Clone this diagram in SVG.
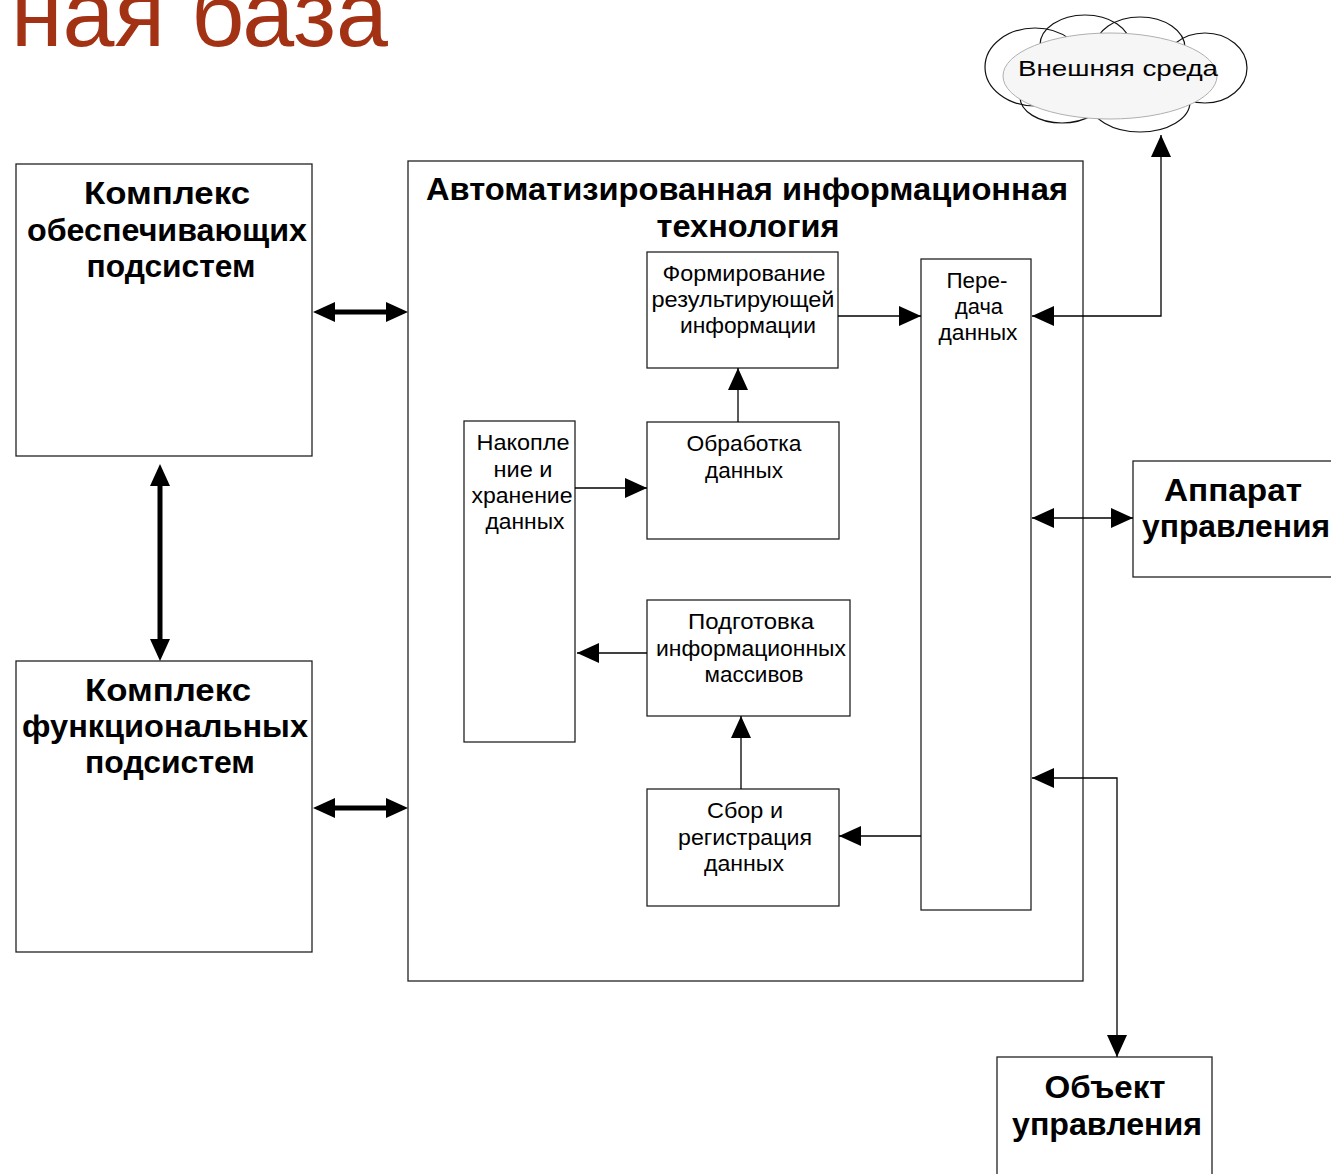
<svg xmlns="http://www.w3.org/2000/svg" width="1331" height="1174" viewBox="0 0 1331 1174">
<style>
  .box { fill: #ffffff; stroke: #222222; stroke-width: 1.3; }
  .thin { fill: none; stroke: #000000; stroke-width: 1.3; }
  .thick { fill: none; stroke: #000000; stroke-width: 5; }
  .lobe { fill: none; stroke: #111111; stroke-width: 1.2; }
  .b { font-family: "Liberation Sans", Arial, sans-serif; font-weight: bold; font-size: 31px; fill: #000; text-anchor: middle; }
  .r { font-family: "Liberation Sans", Arial, sans-serif; font-size: 22px; fill: #000; text-anchor: middle; }
  .title { font-family: "Liberation Sans", Arial, sans-serif; font-size: 94px; fill: #A33214; }
</style>
<defs>
  <marker id="ah" markerUnits="userSpaceOnUse" viewBox="0 0 22 20" markerWidth="22" markerHeight="20" refX="22" refY="10" orient="auto-start-reverse">
    <path d="M0,0 L22,10 L0,20 z" fill="#000"/>
  </marker>
  <marker id="ahT" markerUnits="userSpaceOnUse" viewBox="0 0 22 20" markerWidth="22" markerHeight="20" refX="12" refY="10" orient="auto-start-reverse">
    <path d="M0,0 L22,10 L0,20 z" fill="#000"/>
  </marker>
</defs>
<rect x="0" y="0" width="1331" height="1174" fill="#ffffff"/>

<text class="title" x="11" y="46" textLength="377" lengthAdjust="spacingAndGlyphs">ная база</text>

<g id="cloud">
  <ellipse class="lobe" cx="1035" cy="67" rx="50" ry="39"/>
  <ellipse class="lobe" cx="1085" cy="45" rx="45" ry="30"/>
  <ellipse class="lobe" cx="1140" cy="48" rx="45" ry="31"/>
  <ellipse class="lobe" cx="1205" cy="68" rx="42" ry="35"/>
  <ellipse class="lobe" cx="1140" cy="102" rx="50" ry="30"/>
  <ellipse class="lobe" cx="1062" cy="97" rx="42" ry="26"/>
  <ellipse cx="1110" cy="76" rx="107" ry="43" fill="#f6f6f6" stroke="#b0b0b0" stroke-width="1"/>
  <text class="r" x="1118" y="76" font-size="26" textLength="200" lengthAdjust="spacingAndGlyphs">Внешняя среда</text>
</g>

<g id="support">
  <rect class="box" x="16" y="164" width="296" height="292"/>
  <text class="b" x="167" y="204" textLength="166" lengthAdjust="spacingAndGlyphs">Комплекс</text>
  <text class="b" x="167" y="241" textLength="280" lengthAdjust="spacingAndGlyphs">обеспечивающих</text>
  <text class="b" x="171" y="277" textLength="169" lengthAdjust="spacingAndGlyphs">подсистем</text>
</g>

<g id="functional">
  <rect class="box" x="16" y="661" width="296" height="291"/>
  <text class="b" x="168" y="701" textLength="166" lengthAdjust="spacingAndGlyphs">Комплекс</text>
  <text class="b" x="165" y="737" textLength="286" lengthAdjust="spacingAndGlyphs">функциональных</text>
  <text class="b" x="170" y="773" textLength="170" lengthAdjust="spacingAndGlyphs">подсистем</text>
</g>

<g id="ait">
  <rect class="box" x="408" y="161" width="675" height="820"/>
  <text class="b" x="747" y="200" textLength="642" lengthAdjust="spacingAndGlyphs">Автоматизированная информационная</text>
  <text class="b" x="748" y="237" textLength="183" lengthAdjust="spacingAndGlyphs">технология</text>
</g>

<g id="forming">
  <rect class="box" x="647" y="252" width="191" height="116"/>
  <text class="r" x="744" y="281" textLength="163" lengthAdjust="spacingAndGlyphs">Формирование</text>
  <text class="r" x="743" y="307" textLength="183" lengthAdjust="spacingAndGlyphs">результирующей</text>
  <text class="r" x="748" y="333" textLength="136" lengthAdjust="spacingAndGlyphs">информации</text>
</g>

<g id="processing">
  <rect class="box" x="647" y="422" width="192" height="117"/>
  <text class="r" x="744" y="451" textLength="115" lengthAdjust="spacingAndGlyphs">Обработка</text>
  <text class="r" x="744" y="478" textLength="78" lengthAdjust="spacingAndGlyphs">данных</text>
</g>

<g id="storage">
  <rect class="box" x="464" y="421" width="111" height="321"/>
  <text class="r" x="523" y="450" textLength="93" lengthAdjust="spacingAndGlyphs">Накопле</text>
  <text class="r" x="523" y="477" textLength="59" lengthAdjust="spacingAndGlyphs">ние и</text>
  <text class="r" x="522" y="503" textLength="101" lengthAdjust="spacingAndGlyphs">хранение</text>
  <text class="r" x="525" y="529" textLength="79" lengthAdjust="spacingAndGlyphs">данных</text>
</g>

<g id="preparation">
  <rect class="box" x="647" y="600" width="203" height="116"/>
  <text class="r" x="751" y="629" textLength="126" lengthAdjust="spacingAndGlyphs">Подготовка</text>
  <text class="r" x="751" y="656" textLength="190" lengthAdjust="spacingAndGlyphs">информационных</text>
  <text class="r" x="754" y="682" textLength="99" lengthAdjust="spacingAndGlyphs">массивов</text>
</g>

<g id="collection">
  <rect class="box" x="647" y="789" width="192" height="117"/>
  <text class="r" x="745" y="818" textLength="76" lengthAdjust="spacingAndGlyphs">Сбор и</text>
  <text class="r" x="745" y="845" textLength="134" lengthAdjust="spacingAndGlyphs">регистрация</text>
  <text class="r" x="744" y="871" textLength="80" lengthAdjust="spacingAndGlyphs">данных</text>
</g>

<g id="transfer">
  <rect class="box" x="921" y="259" width="110" height="651"/>
  <text class="r" x="977" y="288" textLength="61" lengthAdjust="spacingAndGlyphs">Пере-</text>
  <text class="r" x="979" y="314" textLength="48" lengthAdjust="spacingAndGlyphs">дача</text>
  <text class="r" x="978" y="340" textLength="79" lengthAdjust="spacingAndGlyphs">данных</text>
</g>

<g id="management">
  <rect class="box" x="1133" y="461" width="220" height="116"/>
  <text class="b" x="1233" y="501" textLength="138" lengthAdjust="spacingAndGlyphs">Аппарат</text>
  <text class="b" x="1236" y="537" textLength="188" lengthAdjust="spacingAndGlyphs">управления</text>
</g>

<g id="object">
  <rect class="box" x="997" y="1057" width="215" height="140"/>
  <text class="b" x="1105" y="1098" textLength="121" lengthAdjust="spacingAndGlyphs">Объект</text>
  <text class="b" x="1107" y="1135" textLength="190" lengthAdjust="spacingAndGlyphs">управления</text>
</g>

<g id="connectors">
  <path class="thick" d="M323,312 H398" marker-start="url(#ahT)" marker-end="url(#ahT)"/>
  <path class="thick" d="M323,808 H398" marker-start="url(#ahT)" marker-end="url(#ahT)"/>
  <path class="thick" d="M160,474 V651" marker-start="url(#ahT)" marker-end="url(#ahT)"/>

  <path class="thin" d="M838,316 H921" marker-end="url(#ah)"/>
  <path class="thin" d="M738,422 V368" marker-end="url(#ah)"/>
  <path class="thin" d="M575,488 H647" marker-end="url(#ah)"/>
  <path class="thin" d="M647,653 H577" marker-end="url(#ah)"/>
  <path class="thin" d="M741,789 V716" marker-end="url(#ah)"/>
  <path class="thin" d="M921,836 H839" marker-end="url(#ah)"/>
  <path class="thin" d="M1032,316 H1161 V135" marker-start="url(#ah)" marker-end="url(#ah)"/>
  <path class="thin" d="M1032,518 H1133" marker-start="url(#ah)" marker-end="url(#ah)"/>
  <path class="thin" d="M1032,778 H1117 V1057" marker-start="url(#ah)" marker-end="url(#ah)"/>
</g>
</svg>
